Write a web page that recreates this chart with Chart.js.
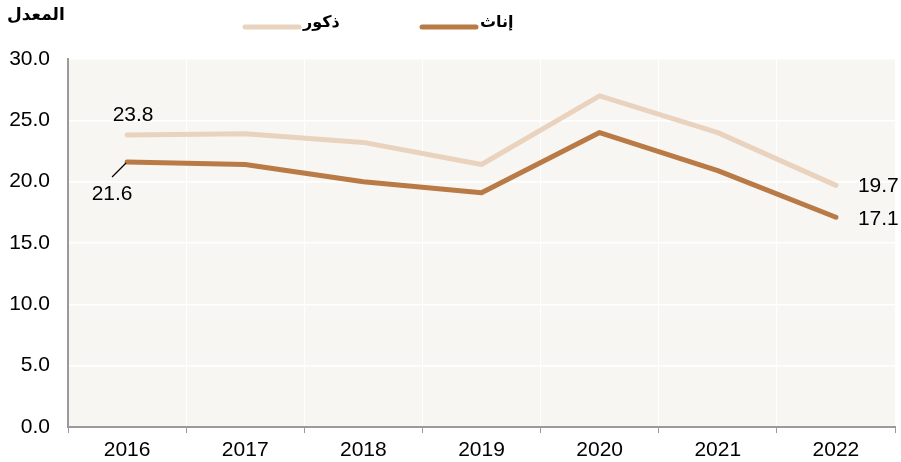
<!DOCTYPE html>
<html>
<head>
<meta charset="utf-8">
<script src="https://cdn.jsdelivr.net/npm/chart.js@4/dist/chart.umd.min.js"></script>
<style>
html,body{margin:0;padding:0;background:#fff;}
#wrap{width:901px;height:462px;position:relative;}
</style>
</head>
<body>
<div id="wrap"><canvas id="c" width="901" height="462"></canvas></div>
<script>
const years = ['2016','2017','2018','2019','2020','2021','2022'];
const males = [23.8, 23.9, 23.2, 21.4, 27.0, 24.0, 19.7];
const females = [21.6, 21.4, 20.0, 19.1, 24.0, 20.9, 17.1];
const seriesNames = ['ذكور', 'إناث'];
const yAxisTitle = 'المعدل';
const yTicks = [0, 5, 10, 15, 20, 25, 30];

const LIGHT = '#e9d3bf';
const DARK = '#b97a45';
const NUM_FONT = '21px "Liberation Sans", Arial, sans-serif';
const AR_FONT = 'bold 16px "DejaVu Sans", sans-serif';

const bgPlugin = {
  id: 'bg',
  beforeDraw(chart) {
    const {ctx, chartArea: a} = chart;
    ctx.save();
    ctx.fillStyle = '#f8f6f2';
    ctx.fillRect(a.left, a.top, a.right - a.left, a.bottom - a.top);
    ctx.restore();
  }
};

const annotPlugin = {
  id: 'annot',
  afterDatasetsDraw(chart) {
    const ctx = chart.ctx;
    const m0 = chart.getDatasetMeta(0).data;
    const m1 = chart.getDatasetMeta(1).data;
    const last = years.length - 1;
    ctx.save();
    ctx.font = NUM_FONT;
    ctx.fillStyle = '#000';
    ctx.textBaseline = 'middle';
    ctx.textAlign = 'center';
    ctx.fillText(males[0].toFixed(1), m0[0].x + 6, m0[0].y - 20);
    ctx.fillText(females[0].toFixed(1), m1[0].x - 15, m1[0].y + 32);
    ctx.strokeStyle = '#000';
    ctx.lineWidth = 1.2;
    ctx.beginPath();
    ctx.moveTo(m1[0].x - 1, m1[0].y + 1);
    ctx.lineTo(m1[0].x - 15, m1[0].y + 15);
    ctx.stroke();
    ctx.textAlign = 'left';
    ctx.fillText(males[last].toFixed(1), m0[last].x + 22, m0[last].y + 1);
    ctx.fillText(females[last].toFixed(1), m1[last].x + 22, m1[last].y + 2);
    ctx.restore();
  }
};

const legendTitlePlugin = {
  id: 'legtitle',
  afterDraw(chart) {
    const ctx = chart.ctx;
    ctx.save();
    ctx.font = 'bold 17px "DejaVu Sans", sans-serif';
    ctx.fillStyle = '#000';
    ctx.textBaseline = 'middle';
    ctx.textAlign = 'left';
    ctx.fillText(yAxisTitle, 7, 16);
    const items = [
      {x: 245, color: chart.data.datasets[0].borderColor, label: chart.data.datasets[0].label},
      {x: 422, color: chart.data.datasets[1].borderColor, label: chart.data.datasets[1].label}
    ];
    items.forEach(it => {
      ctx.strokeStyle = it.color;
      ctx.lineWidth = 5;
      ctx.lineCap = 'round';
      ctx.beginPath();
      ctx.moveTo(it.x, 27);
      ctx.lineTo(it.x + 54, 27);
      ctx.stroke();
      ctx.font = AR_FONT;
      ctx.fillStyle = '#000';
      ctx.textAlign = 'left';
      ctx.fillText(it.label, it.x + 58, 23);
    });
    ctx.restore();
  }
};

new Chart(document.getElementById('c'), {
  type: 'line',
  data: {
    labels: years,
    datasets: [
      {label: seriesNames[0], data: males, borderColor: LIGHT, backgroundColor: LIGHT,
       borderWidth: 5, borderCapStyle: 'round', borderJoinStyle: 'round', pointRadius: 0, tension: 0, order: 2},
      {label: seriesNames[1], data: females, borderColor: DARK, backgroundColor: DARK,
       borderWidth: 5, borderCapStyle: 'round', borderJoinStyle: 'round', pointRadius: 0, tension: 0, order: 1}
    ]
  },
  options: {
    responsive: false,
    animation: false,
    events: [],
    layout: {padding: {top: 59, right: 6, left: 0, bottom: 0}},
    plugins: {legend: {display: false}, tooltip: {enabled: false}},
    scales: {
      x: {
        offset: true,
        afterFit(scale) { scale.height = 35; },
        grid: {offset: true, color: '#ffffff', lineWidth: 1, tickColor: '#9a9a9a', tickLength: 6, drawTicks: true},
        border: {color: '#9a9a9a', width: 2},
        ticks: {color: '#000', font: {family: '"Liberation Sans", Arial, sans-serif', size: 21}, padding: 5}
      },
      y: {
        min: 0, max: 30,
        afterFit(scale) { scale.width = 68; },
        afterBuildTicks(scale) { scale.ticks = yTicks.map(v => ({value: v})); },
        grid: {color: '#ffffff', lineWidth: 1.5, drawTicks: false},
        border: {color: '#9a9a9a', width: 2},
        ticks: {color: '#000', font: {family: '"Liberation Sans", Arial, sans-serif', size: 21}, padding: 18,
                callback: v => Number(v).toFixed(1)}
      }
    }
  },
  plugins: [bgPlugin, annotPlugin, legendTitlePlugin]
});
</script>
</body>
</html>
